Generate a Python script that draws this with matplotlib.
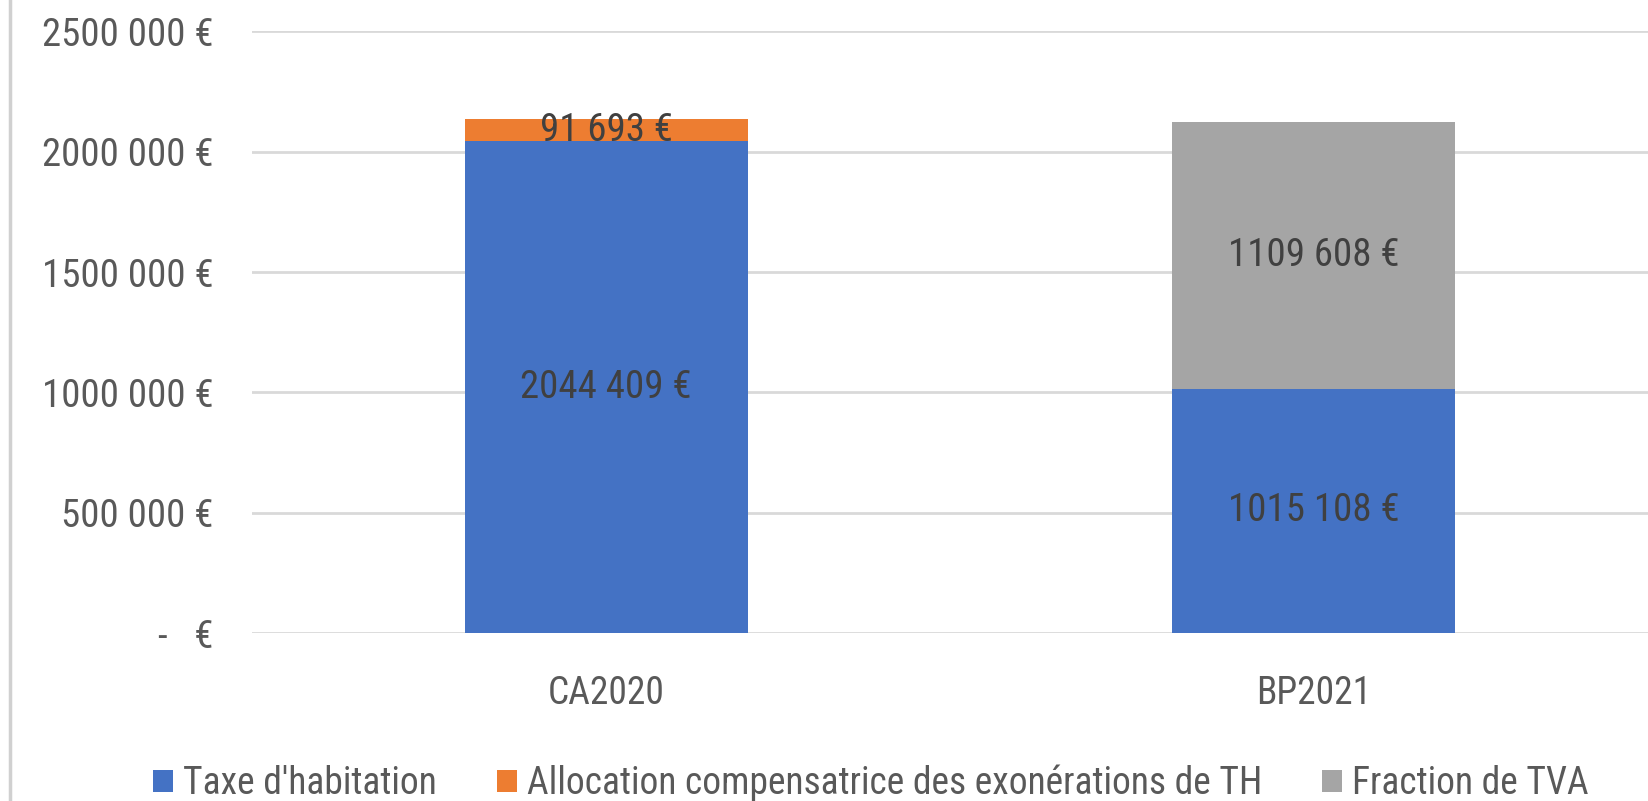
import matplotlib
matplotlib.use("Agg")
import matplotlib.pyplot as plt
from matplotlib.lines import Line2D
from matplotlib.ticker import FuncFormatter
import numpy as np

plt.rcParams['font.family'] = ['Roboto Condensed', 'Roboto', 'DejaVu Sans']

categories = ["CA2020", "BP2021"]
taxe_habitation = [2044409, 1015108]
allocation_th = [91693, 0]
fraction_tva = [0, 1109608]
series_names = ["Taxe d'habitation",
                "Allocation compensatrice des exonérations de TH",
                "Fraction de TVA"]
colors = ["#4472C4", "#ED7D31", "#A5A5A5"]


def euro(v, pos=None):
    v = int(round(v))
    if v == 0:
        return "-   €"
    if v >= 1000:
        return f"{v // 1000} {v % 1000:03d} €"
    return f"{v} €"


fig = plt.figure(figsize=(16.49, 8.01), dpi=100)
ax = fig.add_axes([0.153, 0.2097, 0.847, 0.751])

x = np.arange(len(categories))
w = 0.4
bottom = np.zeros(len(categories))
for vals, name, col in zip([taxe_habitation, allocation_th, fraction_tva], series_names, colors):
    b = ax.bar(x, vals, w, bottom=bottom, color=col, label=name, zorder=3)
    labels = [euro(v) if v > 0 else "" for v in vals]
    ax.bar_label(b, labels=labels, label_type='center', fontsize=28, color="#404040", zorder=4)
    bottom += np.array(vals)

ax.set_xlim(-0.5, 1.474)
ax.set_ylim(0, 2500000)
ax.set_yticks(np.arange(0, 2500001, 500000))
ax.yaxis.set_major_formatter(FuncFormatter(euro))
ax.set_xticks(x)
ax.set_xticklabels(categories)
ax.tick_params(axis='y', length=0, pad=28, labelsize=28, labelcolor="#595959")
ax.tick_params(axis='x', length=0, pad=30, labelsize=27, labelcolor="#595959")
ax.grid(axis='y', color="#D9D9D9", linewidth=2, zorder=0)
for s in ax.spines.values():
    s.set_visible(False)

fig.legend(loc='center', bbox_to_anchor=(0.528, 0.022), ncol=3, frameon=False,
           fontsize=27, labelcolor="#595959", handlelength=0.55, handleheight=0.55,
           handletextpad=0.25, columnspacing=1.6, borderaxespad=0)

fig.add_artist(Line2D([0.006, 0.006], [0, 1], color="#D0D0D0", linewidth=2.5))

fig.savefig("out.png", dpi=100)
